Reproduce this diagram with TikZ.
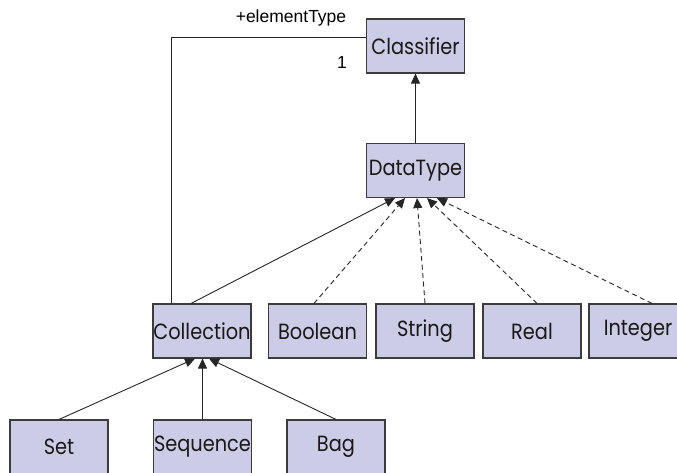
\documentclass[tikz,border=0pt]{standalone}
\usepackage{fontspec}
\setmainfont{Liberation Sans}
\newfontfamily\boxfont{Poppins}[FakeStretch=0.88]
\usetikzlibrary{arrows.meta}
\definecolor{boxfill}{RGB}{204,204,230}
\definecolor{edgegray}{RGB}{60,60,60}

\begin{document}
\begin{tikzpicture}[x=1pt,y=-1pt,
  cls/.style={draw=edgegray, line width=1.1pt, fill=boxfill,
    minimum width=98pt, minimum height=54pt, inner sep=0pt,
    text=black!90, font=\boxfont\fontsize{22}{26}\selectfont},
  gen/.style={draw=black!85, line width=0.9pt,
    -{Triangle[width=9pt,length=10pt]}},
  realize/.style={gen, dash pattern=on 5pt off 3.5pt},
  assoc/.style={draw=black!85, line width=0.9pt},
  lbl/.style={font=\fontsize{17.5}{20}\selectfont, inner sep=0pt},
]
\useasboundingbox (0,0) rectangle (677,472);
\clip (0,0) rectangle (677,472);

% classes
\node[cls] (classifier) at (415.5,46) {Classifier};
\node[cls] (datatype)   at (415.5,170.5) {DataType};
\node[cls] (collection) at (202,331) {Collection};
\node[cls] (boolean)    at (317.5,331) {Boolean};
\node[cls] (string)     at (425,331) {String};
\node[cls] (real)       at (532,331) {Real};
\node[cls] (integer)    at (638,331) {Integer};
\node[cls] (set)        at (59,447) {Set};
\node[cls] (sequence)   at (202.5,447) {Sequence};
\node[cls] (bag)        at (336,447) {Bag};

% generalisations
\draw[gen] (datatype.north) -- (classifier.south);
\draw[gen] ([xshift=-11pt]collection.north) -- ([xshift=-20.5pt]datatype.south);
\draw[realize] ([xshift=-3.5pt]boolean.north) -- ([xshift=-10.5pt]datatype.south);
\draw[realize] (string.north) -- ([xshift=1.5pt]datatype.south);
\draw[realize] ([xshift=5pt]real.north) -- ([xshift=11.5pt]datatype.south);
\draw[realize] ([xshift=14pt]integer.north) -- ([xshift=21.5pt]datatype.south);
\draw[gen] (set.north) -- ([xshift=-7pt]collection.south);
\draw[gen] (sequence.north) -- ([xshift=0.5pt]collection.south);
\draw[gen] (bag.north) -- ([xshift=7pt]collection.south);

% association to the element type
\coordinate (bend) at (171,37);
\draw[assoc] ([xshift=-31pt]collection.north) -- (bend) -- ([yshift=9pt]classifier.west);
\node[lbl] (role) at (291,18) {+elementType};
\node[lbl] (mult) at (342,62) {1};
\end{tikzpicture}
\end{document}
